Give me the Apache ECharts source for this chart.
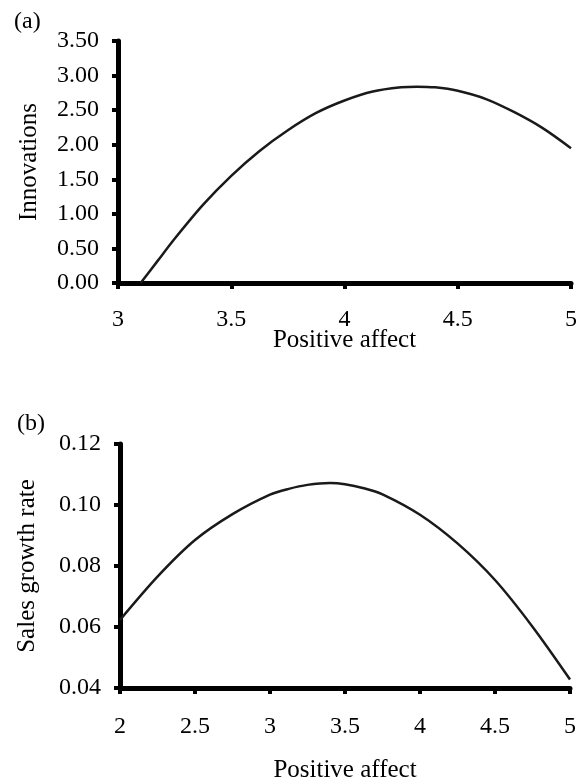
<!DOCTYPE html>
<html>
<head>
<meta charset="utf-8">
<script src="https://cdn.jsdelivr.net/npm/echarts@6/dist/echarts.min.js"></script>
<style>
  html, body { margin: 0; padding: 0; background: #fff; }
  #chart { width: 582px; height: 779px; }
</style>
</head>
<body>
<div id="chart"></div>
<script>
// (a) innovations vs positive affect
const innovX = [3.1, 3.175, 3.25, 3.375, 3.5, 3.625, 3.75, 3.875, 4, 4.125, 4.25, 4.32, 4.4, 4.5, 4.625, 4.75, 4.875, 5];
const innovY = [0, 0.32, 0.64, 1.13, 1.55, 1.91, 2.21, 2.46, 2.64, 2.77, 2.83, 2.84, 2.83, 2.78, 2.66, 2.47, 2.24, 1.95];
const innovXTicks = [3, 3.5, 4, 4.5, 5];
const innovYTicks = [0, 0.5, 1, 1.5, 2, 2.5, 3, 3.5];

// (b) sales growth rate vs positive affect
const salesX = [2, 2.25, 2.5, 2.75, 3, 3.125, 3.25, 3.4, 3.5, 3.625, 3.75, 4, 4.25, 4.5, 4.75, 5];
const salesY = [0.0623, 0.0765, 0.0885, 0.0970, 0.1034, 0.1053, 0.1066, 0.1072, 0.1068, 0.1055, 0.1035, 0.0968, 0.0874, 0.0754, 0.0601, 0.0428];
const salesXTicks = [2, 2.5, 3, 3.5, 4, 4.5, 5];
const salesYTicks = [0.04, 0.06, 0.08, 0.10, 0.12];

const font = '"Liberation Serif", "Times New Roman", serif';

function pairs (xs, ys) {
  return xs.map((x, i) => [x, ys[i]]);
}

function xAxisFor (gridIndex, ticks, labelMargin, nameGap) {
  return {
    type: 'value',
    gridIndex: gridIndex,
    min: ticks[0],
    max: ticks[ticks.length - 1],
    interval: ticks[1] - ticks[0],
    name: 'Positive affect',
    nameLocation: 'middle',
    nameGap: nameGap,
    nameMoveOverlap: false,
    nameTextStyle: { fontFamily: font, fontSize: 25, color: '#000' },
    splitLine: { show: false },
    axisLine: { show: true, onZero: false, lineStyle: { color: '#000', width: 5 } },
    axisTick: { show: true, inside: false, length: 6, lineStyle: { color: '#000', width: 4 } },
    axisLabel: { margin: labelMargin, fontFamily: font, fontSize: 24, color: '#000' }
  };
}

function yAxisFor (gridIndex, ticks, name, nameGap) {
  return {
    type: 'value',
    gridIndex: gridIndex,
    min: ticks[0],
    max: ticks[ticks.length - 1],
    interval: +(ticks[1] - ticks[0]).toFixed(4),
    name: name,
    nameLocation: 'middle',
    nameGap: nameGap,
    nameMoveOverlap: false,
    nameTextStyle: { fontFamily: font, fontSize: 25, color: '#000' },
    splitLine: { show: false },
    axisLine: { show: true, onZero: false, lineStyle: { color: '#000', width: 5 } },
    axisTick: { show: true, inside: false, length: 6, lineStyle: { color: '#000', width: 4 } },
    axisLabel: {
      margin: 19,
      fontFamily: font,
      fontSize: 24,
      color: '#000',
      formatter: (v) => v.toFixed(2)
    }
  };
}

let myChart = echarts.init(document.getElementById('chart'), null, { renderer: 'canvas' });

myChart.setOption({
  animation: false,
  backgroundColor: '#fff',
  grid: [
    { left: 118, top: 41, width: 453, height: 242, outerBoundsMode: 'none' },
    { left: 120, top: 444, width: 450, height: 244, outerBoundsMode: 'none' }
  ],
  xAxis: [
    xAxisFor(0, innovXTicks, 25, 45),
    xAxisFor(1, salesXTicks, 27, 70)
  ],
  yAxis: [
    yAxisFor(0, innovYTicks, 'Innovations', 76),
    yAxisFor(1, salesYTicks, 'Sales growth rate', 80)
  ],
  graphic: [
    { type: 'text', left: 14, top: 10, style: { text: '(a)', font: '24px ' + font, fill: '#000' } },
    { type: 'text', left: 17, top: 412, style: { text: '(b)', font: '24px ' + font, fill: '#000' } }
  ],
  series: [
    {
      name: 'Innovations',
      type: 'line',
      xAxisIndex: 0,
      yAxisIndex: 0,
      symbol: 'none',
      smooth: 0.3,
      data: pairs(innovX, innovY),
      lineStyle: { color: '#1a1a1a', width: 2.5 }
    },
    {
      name: 'Sales growth rate',
      type: 'line',
      xAxisIndex: 1,
      yAxisIndex: 1,
      symbol: 'none',
      smooth: 0.3,
      data: pairs(salesX, salesY),
      lineStyle: { color: '#1a1a1a', width: 2.5 }
    }
  ]
});
</script>
</body>
</html>
